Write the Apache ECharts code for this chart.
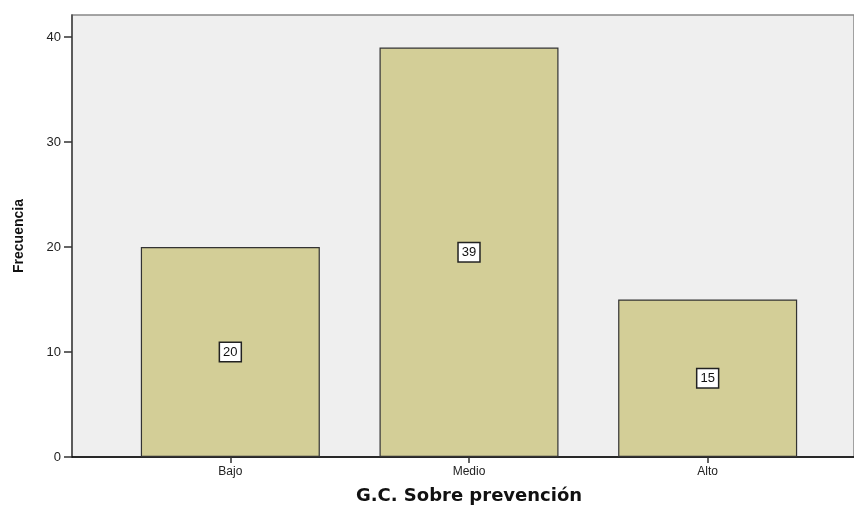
<!DOCTYPE html>
<html><head><meta charset="utf-8">
<script src="https://cdn.jsdelivr.net/npm/echarts@6/dist/echarts.min.js"></script>
<style>html,body{margin:0;padding:0;background:#fff}#c{width:854px;height:505px}</style>
</head><body><div id="c"></div>
<script>
const categories = ['Bajo', 'Medio', 'Alto'];
const frecuencia = [20, 39, 15];
const yTicks = [0, 10, 20, 30, 40];

const chart = echarts.init(document.getElementById('c'), null, {renderer: 'canvas'});
const yMax = 42.1;
chart.setOption({
  animation: false,
  grid: [
    {left: 72, top: 15, right: 0, bottom: 48, show: true, backgroundColor: '#efefef', borderColor: '#888', borderWidth: 1.5, containLabel: false, outerBoundsMode: 'none'},
    {left: 111, width: 716, top: 15, bottom: 48, containLabel: false, outerBoundsMode: 'none'}
  ],
  xAxis: [
    {gridIndex: 0, type: 'value', min: 0, max: 1, axisLine: {show: true, onZero: false, lineStyle: {color: '#000', width: 1.5}}, axisTick: {show: false}, axisLabel: {show: false}, splitLine: {show: false}},
    {gridIndex: 1, type: 'category', data: categories, axisLine: {show: false}, axisTick: {show: true, alignWithLabel: true, length: 6, lineStyle: {color: '#333', width: 1.5}},
     axisLabel: {color: '#222', fontFamily: 'Liberation Sans, Arial, sans-serif', fontSize: 12, margin: 9},
     name: 'G.C. Sobre prevención', nameLocation: 'middle', nameGap: 30,
     nameTextStyle: {color: '#111', fontWeight: 'bold', fontSize: 18, fontFamily: 'DejaVu Sans, Verdana, sans-serif'}}
  ],
  yAxis: [
    {gridIndex: 0, type: 'value', min: 0, max: yMax, interval: 10,
     axisLine: {show: true, lineStyle: {color: '#444', width: 1.5}},
     axisTick: {show: true, length: 8, customValues: yTicks, lineStyle: {color: '#333', width: 1.5}},
     axisLabel: {color: '#222', fontFamily: 'Liberation Sans, Arial, sans-serif', fontSize: 13, margin: 11, customValues: yTicks},
     splitLine: {show: false},
     name: 'Frecuencia', nameLocation: 'middle', nameGap: 46, nameRotate: 90,
     nameTextStyle: {color: '#111', fontWeight: 'bold', fontSize: 14, fontFamily: 'Liberation Sans Narrow, Liberation Sans, Arial, sans-serif'}},
    {gridIndex: 1, type: 'value', min: 0, max: yMax, show: false, splitLine: {show: false}}
  ],
  series: [{
    type: 'bar', xAxisIndex: 1, yAxisIndex: 1, data: frecuencia, barWidth: 179,
    itemStyle: {color: '#d3ce97', borderColor: '#333', borderWidth: 1.2},
    label: {show: true, position: 'inside', color: '#111', fontSize: 13, fontFamily: 'Liberation Sans, Arial, sans-serif',
      backgroundColor: '#fff', borderColor: '#222', borderWidth: 1.5, padding: [3, 3, 2, 3]}
  }]
});
</script></body></html>
